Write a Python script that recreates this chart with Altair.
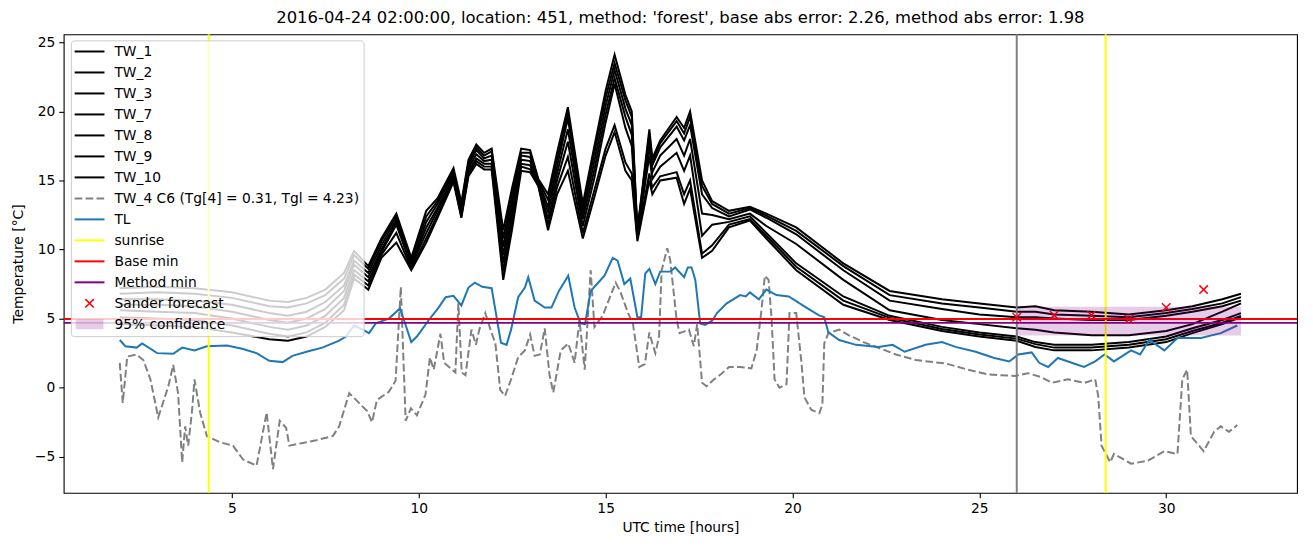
import altair as alt
import pandas as pd

FONT = "DejaVu Sans"
TITLE = "2016-04-24 02:00:00, location: 451, method: 'forest', base abs error: 2.26, method abs error: 1.98"

# ---------------- data ----------------
T_TW = [2.0, 3.0, 4.0, 5.0, 6.0, 6.5, 7.0, 7.5, 8.0, 8.27, 8.65, 9.0, 9.4, 9.8, 10.2, 10.5, 10.93,
        11.14, 11.33, 11.54, 11.75, 11.95, 12.26, 12.5, 12.74, 12.98, 13.2, 13.46, 13.7, 13.99, 14.39,
        14.7, 15.0, 15.24, 15.53, 15.7, 15.85, 16.17, 16.25, 16.46, 16.9, 17.1, 17.26, 17.58, 17.85,
        18.3, 18.86, 19.3, 20.1, 21.36, 22.6, 24.0, 25.0, 26.0, 26.5, 27.0, 28.0, 29.0, 30.0, 30.7, 31.5, 32.0]

TW_1 = [7.2, 7.3, 7.2, 6.9, 6.3, 6.2, 6.5, 7.1, 8.3, 9.9, 8.8, 10.8, 12.6, 9.4, 12.8, 13.7, 15.9, 13.4, 16.5,
        17.6, 17.0, 17.3, 11.4, 14.5, 17.3, 17.2, 15.1, 14.0, 17.0, 20.3, 13.3, 17.5, 21.5, 24.1, 21.2, 20.0,
        11.4, 18.7, 16.6, 17.9, 19.6, 18.8, 20.0, 15.0, 13.5, 12.8, 13.1, 12.6, 11.6, 9.0, 7.0, 6.4, 6.1, 5.8,
        5.9, 5.6, 5.5, 5.3, 5.6, 5.9, 6.4, 6.8]
TW_2 = [6.8, 6.9, 6.8, 6.5, 5.9, 5.8, 6.1, 6.7, 7.9, 9.6, 8.6, 10.6, 12.4, 9.2, 12.4, 13.5, 15.7, 13.2, 16.3,
        17.4, 16.8, 17.1, 10.8, 14.0, 17.0, 17.0, 15.0, 13.6, 16.5, 19.9, 13.0, 17.0, 21.0, 23.5, 20.8, 19.6,
        11.3, 18.4, 16.4, 17.7, 19.3, 18.4, 19.6, 14.6, 13.3, 12.6, 13.0, 12.45, 11.35, 8.8, 6.7, 6.1, 5.8, 5.5,
        5.5, 5.3, 5.2, 5.1, 5.4, 5.7, 6.1, 6.55]
TW_3 = [6.4, 6.4, 6.3, 6.0, 5.4, 5.2, 5.5, 6.2, 7.4, 9.2, 8.3, 10.3, 12.2, 9.0, 12.0, 13.3, 15.5, 13.0, 16.1,
        17.2, 16.6, 16.8, 10.2, 13.5, 16.8, 16.7, 14.9, 13.1, 16.0, 19.5, 12.6, 16.4, 20.4, 23.0, 20.2, 19.0,
        11.2, 18.0, 16.1, 17.4, 18.9, 17.9, 19.0, 14.0, 13.0, 12.4, 12.9, 12.3, 11.1, 8.5, 6.3, 5.7, 5.3, 5.1,
        5.1, 5.0, 4.9, 4.9, 5.2, 5.5, 5.9, 6.3]
TW_7 = [6.0, 6.0, 5.9, 5.5, 4.9, 4.7, 5.0, 5.7, 7.0, 8.9, 8.0, 10.0, 12.0, 8.9, 11.6, 13.0, 15.3, 12.8, 15.9,
        16.9, 16.4, 16.5, 9.6, 13.0, 16.5, 16.4, 14.8, 12.7, 15.5, 18.7, 12.2, 15.8, 19.8, 22.4, 19.6, 18.3,
        11.1, 17.5, 15.6, 16.8, 18.0, 16.8, 18.0, 12.6, 12.5, 12.2, 12.6, 11.7, 10.4, 7.8, 5.6, 4.9, 4.6, 4.3,
        4.2, 4.0, 3.8, 3.8, 4.1, 4.6, 5.5, 6.1]
TW_8 = [5.6, 5.5, 5.4, 5.0, 4.4, 4.2, 4.5, 5.2, 6.5, 8.5, 7.7, 9.8, 11.8, 8.8, 11.2, 12.8, 15.1, 12.6, 15.7,
        16.6, 16.2, 16.2, 9.0, 12.5, 16.2, 16.1, 14.7, 12.2, 15.0, 17.8, 11.7, 15.2, 19.2, 22.0, 18.8, 17.5,
        11.0, 16.8, 15.1, 16.0, 17.0, 15.7, 16.8, 11.0, 11.8, 12.0, 12.4, 11.2, 9.0, 6.6, 5.2, 4.4, 4.0, 3.7,
        3.3, 3.1, 3.1, 3.3, 3.7, 4.3, 4.9, 5.4]
TW_9 = [5.1, 5.0, 4.9, 4.5, 3.9, 3.7, 4.0, 4.7, 6.0, 8.2, 7.4, 9.6, 11.2, 8.6, 10.8, 12.5, 15.0, 12.4, 15.5,
        16.4, 16.0, 16.0, 8.4, 12.0, 16.0, 15.8, 14.6, 11.8, 14.5, 16.7, 11.2, 14.3, 17.3, 19.0, 16.3, 15.5,
        10.8, 15.5, 14.5, 15.3, 15.6, 14.0, 15.0, 9.7, 10.3, 11.8, 12.2, 11.0, 8.75, 6.3, 5.05, 4.25, 3.85, 3.55,
        3.15, 2.9, 2.9, 3.1, 3.5, 4.1, 4.7, 5.2]
TW_10 = [4.6, 4.5, 4.4, 4.0, 3.5, 3.4, 3.7, 4.4, 5.6, 7.9, 7.1, 9.4, 10.5, 8.5, 10.5, 12.3, 14.9, 12.3, 15.3,
         16.2, 15.8, 15.8, 7.8, 11.5, 15.7, 15.6, 14.6, 11.4, 14.0, 15.7, 10.8, 13.8, 16.8, 18.5, 15.7, 15.0,
         10.6, 15.0, 14.0, 15.0, 15.2, 13.3, 14.4, 9.4, 9.9, 11.6, 12.1, 10.8, 8.5, 6.0, 4.9, 4.1, 3.7, 3.4,
         2.95, 2.7, 2.7, 2.9, 3.3, 3.95, 4.6, 5.1]

TL_T = [2.0, 2.15, 2.45, 2.6, 3.0, 3.43, 3.67, 4.0, 4.33, 4.87, 5.3, 5.66, 6.0, 6.36, 6.62, 7.07, 7.42, 7.87,
        8.05, 8.27, 8.5, 8.67, 8.85, 9.2, 9.4, 9.5, 9.58, 9.8, 9.95, 10.27, 10.53, 10.72, 10.93, 11.14, 11.33,
        11.5, 11.7, 11.95, 12.2, 12.35, 12.47, 12.66, 12.84, 12.93, 13.1, 13.37, 13.55, 13.75, 14.0, 14.17,
        14.33, 14.45, 14.6, 14.97, 15.19, 15.32, 15.5, 15.66, 15.85, 15.95, 16.06, 16.17, 16.33, 16.46, 16.73,
        16.86, 17.1, 17.2, 17.3, 17.4, 17.53, 17.66, 17.85, 17.98, 18.24, 18.6, 18.75, 18.86, 19.1, 19.3,
        19.57, 19.9, 20.37, 20.7, 20.85, 20.96, 21.25, 21.7, 22.3, 22.68, 23.0, 23.56, 24.0, 24.36, 24.9,
        25.4, 25.8, 26.04, 26.4, 26.6, 26.84, 27.1, 27.47, 27.8, 28.1, 28.35, 28.6, 29.06, 29.3, 29.55,
        29.95, 30.3, 30.93, 31.46, 31.9]
TL_V = [3.45, 3.0, 2.9, 3.2, 2.5, 2.45, 2.9, 2.7, 3.0, 3.05, 2.8, 2.5, 1.95, 1.85, 2.3, 2.65, 2.9, 3.4,
        3.7, 4.5, 4.2, 3.95, 4.65, 5.0, 5.5, 5.75, 5.1, 3.3, 3.7, 4.9, 5.8, 6.55, 6.65, 5.95, 7.25,
        7.6, 7.3, 7.2, 3.25, 3.1, 4.2, 6.55, 7.25, 8.0, 6.3, 5.8, 5.8, 7.0, 8.1, 5.8,
        4.65, 4.6, 7.0, 8.1, 9.4, 9.2, 7.5, 7.9, 5.1, 5.1, 8.25, 8.6, 7.5, 8.4, 8.4,
        8.7, 8.0, 8.7, 8.7, 7.8, 4.65, 4.55, 4.85, 5.4, 6.1, 6.7, 6.6, 6.9, 6.4, 7.1,
        6.7, 6.6, 5.8, 5.25, 5.1, 4.0, 3.45, 3.1, 2.95, 3.1, 2.6, 3.1, 3.3, 2.95, 2.6,
        2.15, 1.9, 2.4, 2.55, 1.8, 1.5, 2.15, 1.8, 1.5, 1.9, 2.4, 1.9, 2.7, 2.4, 3.45,
        2.7, 3.6, 3.6, 3.95, 4.5]

C6_T = [2.0, 2.08, 2.2, 2.45, 2.63, 2.82, 3.03, 3.3, 3.43, 3.56, 3.67, 3.75, 3.83, 3.93, 4.0, 4.15, 4.33,
        4.68, 5.03, 5.3, 5.66, 5.93, 6.1, 6.28, 6.45, 6.54, 6.9, 7.26, 7.7, 7.87, 8.14, 8.4, 8.62, 8.75,
        8.88, 9.2, 9.38, 9.52, 9.65, 9.79, 9.95, 10.18, 10.3, 10.4, 10.58, 10.68, 10.98, 11.06, 11.15,
        11.25, 11.41, 11.53, 11.62, 11.78, 11.92, 12.05, 12.18, 12.31, 12.47, 12.66, 12.84, 12.98, 13.1,
        13.24, 13.37, 13.5, 13.6, 13.8, 14.0, 14.17, 14.3, 14.44, 14.6, 14.7, 14.92, 15.1, 15.27, 15.4,
        15.6, 15.73, 15.9, 16.05, 16.17, 16.25, 16.33, 16.43, 16.5, 16.65, 16.73, 16.9, 16.98, 17.23,
        17.36, 17.45, 17.58, 17.7, 17.9, 18.1, 18.3, 18.6, 18.9, 19.04, 19.17, 19.26, 19.36, 19.44, 19.52,
        19.65, 19.84, 19.92, 20.1, 20.24, 20.32, 20.5, 20.72, 20.8, 20.85, 20.96, 21.25, 21.5, 21.9, 22.77,
        23.3, 24.1, 24.7, 25.24, 25.96, 26.3, 26.67, 26.94, 27.37, 27.82, 28.1, 28.18, 28.27, 28.5, 28.6,
        29.06, 29.5, 29.95, 30.3, 30.43, 30.56, 30.66, 31.0, 31.28, 31.46, 31.68, 31.9]
C6_V = [1.8, -1.1, 2.25, 2.4, 2.0, 0.6, -2.15, 0.1, 1.65, -0.4, -5.4, -2.8, -4.2, -1.8, 0.6, -1.8, -3.5,
        -3.95, -4.2, -5.2, -5.65, -1.8, -5.9, -2.4, -2.9, -4.2, -4.0, -3.8, -3.5, -2.8, -0.4, -1.1, -1.7, -2.5,
        -0.9, -0.3, 0.5, 7.3, -2.4, -1.5, -2.0, -0.5, 2.2, 1.3, 3.9, 1.8, 1.1, 6.1, 1.1,
        0.9, 4.2, 3.1, 4.2, 5.4, 4.2, 3.2, -0.15, -0.6, 0.6, 2.2, 2.7, 3.85, 2.3,
        2.4, 4.3, 0.9, -0.35, 2.7, 3.2, 1.8, 4.9, 1.3, 8.5, 4.4, 5.2, 6.45, 7.6, 6.9,
        5.4, 4.65, 1.5, 1.7, 4.0, 3.2, 2.5, 3.7, 8.5, 10.1, 9.2, 4.9, 3.95, 4.2,
        3.0, 4.6, 0.35, 0.1, 0.6, 1.0, 1.5, 1.5, 1.4, 2.7, 5.6, 8.1, 7.8, 5.0, 0.6,
        0.0, 0.25, 5.4, 5.4, 1.8, -0.7, -1.6, -1.85, -1.2, 3.2, 3.95, 4.2, 3.8, 3.3, 2.4,
        2.0, 1.75, 1.3, 0.95, 0.85, 1.05, 0.75, 0.35, 0.6, 0.35, 0.6, -0.6, -4.2, -5.4, -4.8,
        -5.5, -5.3, -4.6, -4.8, 0.6, 1.3, -3.5, -4.6, -3.2, -2.8, -3.2, -2.7]

SUNRISE = [4.38, 28.38]
FORECAST_TIME = [26.0]
BASE_MIN = [4.97]
METHOD_MIN = [4.69]
SANDER_T = [26, 27, 28, 29, 30, 31]
SANDER_V = [5.1, 5.25, 5.25, 4.95, 5.8, 7.1]
CONF_T = [26.0, 32.0]
CONF_LO = [3.78, 3.78]
CONF_HI = [5.86, 5.86]

TW_NAMES = ["TW_1", "TW_2", "TW_3", "TW_7", "TW_8", "TW_9", "TW_10"]
TW_SERIES = [TW_1, TW_2, TW_3, TW_7, TW_8, TW_9, TW_10]
LEGEND_LABELS = TW_NAMES + ["TW_4 C6 (Tg[4] = 0.31, Tgl = 4.23)", "TL", "sunrise", "Base min",
                            "Method min", "Sander forecast", "95% confidence"]

# ---------------- frames ----------------
tw_rows = []
for name, vals in zip(TW_NAMES, TW_SERIES):
    for t, v in zip(T_TW, vals):
        tw_rows.append({"t": t, "v": v, "series": name})
tw_df = pd.DataFrame(tw_rows)
tl_df = pd.DataFrame({"t": TL_T, "v": TL_V})
c6_df = pd.DataFrame({"t": C6_T, "v": C6_V})
sun_df = pd.DataFrame({"t": SUNRISE})
fc_df = pd.DataFrame({"t": FORECAST_TIME})
base_df = pd.DataFrame({"v": BASE_MIN})
meth_df = pd.DataFrame({"v": METHOD_MIN})
sander_df = pd.DataFrame({"t": SANDER_T, "v": SANDER_V})
conf_df = pd.DataFrame({"t": CONF_T, "v": CONF_LO, "hi": CONF_HI})

W, H = 1240, 461
x_sc = alt.Scale(domain=[0.5, 33.5], nice=False, zero=False)
y_sc = alt.Scale(domain=[-7.61, 25.58], nice=False, zero=False)

LBL = 13.9
x_axis = alt.Axis(values=[5, 10, 15, 20, 25, 30], title="UTC time [hours]", grid=False,
                  tickSize=5, tickColor="black", tickWidth=1.1, domain=False,
                  labelFont=FONT, labelFontSize=LBL, labelColor="black", labelPadding=4,
                  titleFont=FONT, titleFontSize=LBL, titleFontWeight="normal", titleColor="black",
                  titlePadding=5)
y_axis = alt.Axis(values=[-5, 0, 5, 10, 15, 20, 25], title="Temperature [°C]", grid=False,
                  tickSize=5, tickColor="black", tickWidth=1.1, domain=False,
                  labelFont=FONT, labelFontSize=LBL, labelColor="black", labelPadding=4,
                  titleFont=FONT, titleFontSize=LBL, titleFontWeight="normal", titleColor="black",
                  titlePadding=9)

X = alt.X("t:Q", scale=x_sc, axis=x_axis)
Y = alt.Y("v:Q", scale=y_sc, axis=y_axis)

LW = 2
tw_layer = alt.Chart(tw_df).mark_line(color="black", strokeWidth=LW).encode(x=X, y=Y, detail="series:N")
c6_layer = alt.Chart(c6_df).mark_line(color="grey", strokeWidth=LW, strokeDash=[7.7, 3.3]).encode(x=X, y=Y)
tl_layer = alt.Chart(tl_df).mark_line(color="#1f77b4", strokeWidth=LW).encode(x=X, y=Y)
sun_layer = alt.Chart(sun_df).mark_rule(color="yellow", strokeWidth=LW).encode(x=X)
fc_layer = alt.Chart(fc_df).mark_rule(color="grey", strokeWidth=LW).encode(x=X)
base_layer = alt.Chart(base_df).mark_rule(color="red", strokeWidth=LW).encode(y=Y)
meth_layer = alt.Chart(meth_df).mark_rule(color="purple", strokeWidth=LW).encode(y=Y)
XSHAPE = "M-1,-1L1,1M-1,1L1,-1"
sander_layer = alt.Chart(sander_df).mark_point(shape=XSHAPE, filled=False, stroke="red", strokeWidth=1.5,
                                               size=72, opacity=1).encode(x=X, y=Y)
conf_layer = alt.Chart(conf_df).mark_area(color="purple", opacity=0.2).encode(x=X, y=Y, y2="hi:Q")

# ---------------- legend (pixel placement inside plot) ----------------
one = pd.DataFrame({"k": [0]})
legend_layers = [alt.Chart(one).mark_rect(fill="white", fillOpacity=0.8, stroke="#cccccc", strokeWidth=1,
                                          cornerRadius=3).encode(
    x=alt.value(7.7), x2=alt.value(302), y=alt.value(6.6), y2=alt.value(304))]
ROW0, ROWH = 17.3, 21.1
styles = ["black"] * 7 + ["dash", "#1f77b4", "yellow", "red", "purple", "marker", "patch"]
for i, (lab, st) in enumerate(zip(LEGEND_LABELS, styles)):
    yy = ROW0 + ROWH * i
    if st == "dash":
        legend_layers.append(alt.Chart(one).mark_rule(color="grey", strokeWidth=LW, strokeDash=[7.7, 3.3]).encode(
            x=alt.value(11), x2=alt.value(41), y=alt.value(yy)))
    elif st == "marker":
        legend_layers.append(alt.Chart(one).mark_point(shape=XSHAPE, filled=False, stroke="red", strokeWidth=1.5,
                                                       size=72, opacity=1).encode(
            x=alt.value(26), y=alt.value(yy)))
    elif st == "patch":
        legend_layers.append(alt.Chart(one).mark_rect(color="purple", opacity=0.2).encode(
            x=alt.value(12), x2=alt.value(40), y=alt.value(yy - 5), y2=alt.value(yy + 5)))
    else:
        legend_layers.append(alt.Chart(one).mark_rule(color=st, strokeWidth=LW).encode(
            x=alt.value(11), x2=alt.value(41), y=alt.value(yy)))
    legend_layers.append(alt.Chart(one).mark_text(align="left", baseline="middle", font=FONT, fontSize=LBL,
                                                  color="black").encode(
        x=alt.value(51), y=alt.value(yy + 0.5), text=alt.value(lab)))

chart = alt.layer(
    tw_layer, c6_layer, tl_layer, sun_layer, fc_layer, base_layer, meth_layer, sander_layer, conf_layer,
    *legend_layers
).properties(
    width=W, height=H,
    title=alt.TitleParams(TITLE, font=FONT, fontSize=16.5, fontWeight="normal", color="black",
                          anchor="middle", offset=7),
    autosize=alt.AutoSizeParams(type="none"),
    padding={"left": 56, "top": 25, "right": 8, "bottom": 40},
    background="white",
).configure_view(stroke="black", strokeWidth=1.1)

chart.save("out.html", embed_options={"renderer": "svg", "actions": False})
